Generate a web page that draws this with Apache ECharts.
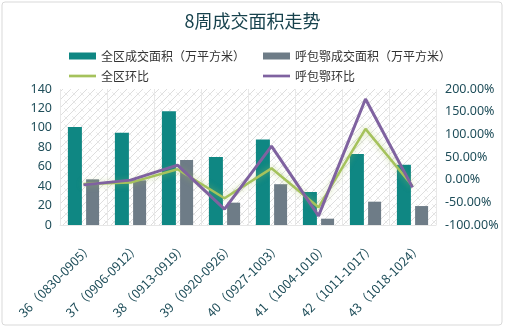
<!DOCTYPE html>
<html><head><meta charset="utf-8">
<script src="https://cdn.jsdelivr.net/npm/echarts@6/dist/echarts.min.js"></script>
<style>html,body{margin:0;padding:0;background:#fff}#c{width:505px;height:334px}</style>
</head><body><div id="c"></div>
<script>
const categories=['36（0830-0905）','37（0906-0912）','38（0913-0919）','39（0920-0926）','40（0927-1003）','41（1004-1010）','42（1011-1017）','43（1018-1024）'];
const areaAll=[101,95,117,70,88,34,73,62];
const areaHBE=[47,46,67,23,42,6.5,24,19.5];
const momAll=[-9.5,-6.5,23,-41,25,-61,112,-14];
const momHBE=[-11.5,-1,32,-65,74,-80,178,-17];
const leftTicks=[0,20,40,60,80,100,120,140];
const rightTicks=[-100,-50,0,50,100,150,200];

const pc=document.createElement('canvas');pc.width=8;pc.height=8;
const g=pc.getContext('2d');g.fillStyle='#ffffff';g.fillRect(0,0,8,8);
g.strokeStyle='#dedede';g.lineWidth=1;
g.beginPath();g.moveTo(0,8);g.lineTo(8,0);g.moveTo(-2,2);g.lineTo(2,-2);g.moveTo(6,10);g.lineTo(10,6);g.stroke();
g.strokeStyle='#ececec';g.beginPath();g.moveTo(0,4);g.lineTo(4,8);g.stroke();

const txt='#1f4e5a';
const lineIcon='path://M0,0L30,0L30,3L0,3Z';
const chart=echarts.init(document.getElementById('c'));
chart.setOption({
  animation:false,
  graphic:[{type:'rect',shape:{x:2,y:2,width:500,height:323,r:3},style:{fill:'none',stroke:'#d9d9d9',lineWidth:1},silent:true}],
  title:{text:'8周成交面积走势',left:'center',top:7,textStyle:{fontSize:18,fontWeight:'normal',color:'#17424d',fontFamily:'Noto Sans CJK SC'}},
  legend:[
    {left:64,top:45,orient:'vertical',itemGap:8,itemWidth:27,itemHeight:7,
      data:[{name:'全区成交面积（万平方米）',icon:'rect'},{name:'全区环比',icon:lineIcon}],textStyle:{fontSize:12,color:'#333',fontFamily:'Noto Sans CJK SC'}},
    {left:258,top:45,orient:'vertical',itemGap:8,itemWidth:27,itemHeight:7,
      data:[{name:'呼包鄂成交面积（万平方米）',icon:'rect'},{name:'呼包鄂环比',icon:lineIcon}],textStyle:{fontSize:12,color:'#333',fontFamily:'Noto Sans CJK SC'}}
  ],
  grid:{left:60,right:69,top:89,bottom:109,show:true,borderWidth:0,backgroundColor:{image:pc,repeat:'repeat'}},
  xAxis:{type:'category',data:categories,axisTick:{show:false},axisLine:{lineStyle:{color:'#e6e6e6'}},
    splitLine:{show:true,lineStyle:{color:'#e8e8e8'}},
    axisLabel:{rotate:45,interval:0,fontSize:12.5,color:txt,margin:13,verticalAlign:'top',lineHeight:20,fontFamily:'Noto Sans CJK SC'}},
  yAxis:[
    {type:'value',min:0,max:140,interval:20,splitLine:{show:false},axisLine:{show:false},axisTick:{show:false},
      axisLabel:{fontSize:12.5,color:txt,margin:8,fontFamily:'Noto Sans'}},
    {type:'value',min:-100,max:200,interval:50,splitLine:{show:false},axisLine:{show:false},axisTick:{show:false},
      axisLabel:{fontSize:12.5,color:txt,margin:9,fontFamily:'Noto Sans',formatter:v=>v.toFixed(2)+'%'}}
  ],
  series:[
    {name:'全区成交面积（万平方米）',type:'bar',data:areaAll,barWidth:14,barGap:'30%',itemStyle:{color:'#0f8783'}},
    {name:'呼包鄂成交面积（万平方米）',type:'bar',data:areaHBE,barWidth:13,barGap:'30%',itemStyle:{color:'#6e7c87'}},
    {name:'全区环比',type:'line',yAxisIndex:1,data:momAll,symbol:'none',lineStyle:{color:'#a5c25c',width:2.5,shadowColor:'rgba(165,194,92,0.6)',shadowBlur:6},itemStyle:{color:'#a5c25c'}},
    {name:'呼包鄂环比',type:'line',yAxisIndex:1,data:momHBE,symbol:'none',lineStyle:{color:'#7f62a0',width:3},itemStyle:{color:'#7f62a0'}}
  ]
});
</script></body></html>
